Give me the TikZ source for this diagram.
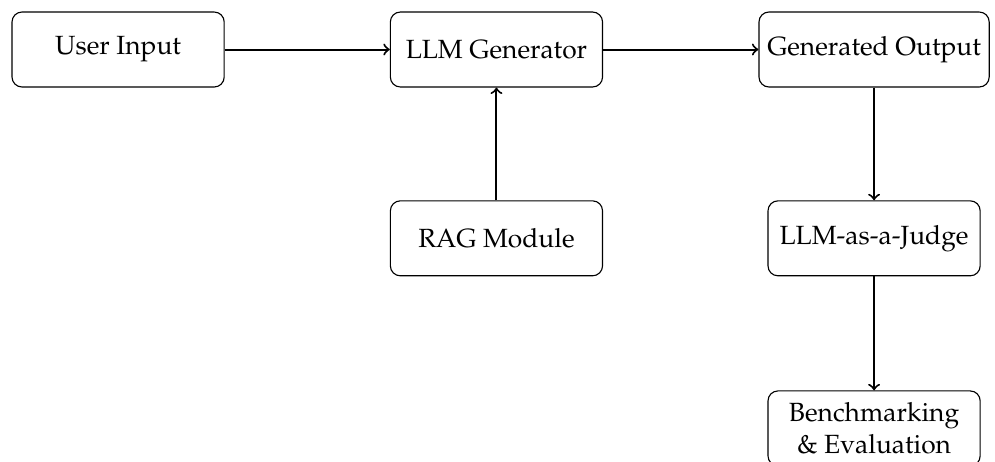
\documentclass[tikz,border=0pt]{standalone}
\usepackage[T1]{fontenc}
\usepackage{mathpazo}
\usetikzlibrary{positioning}
\begin{document}
\begin{tikzpicture}[
  x=1cm, y=-1cm,
  block/.style={draw, rounded corners=4pt, line width=0.45pt,
    font=\fontsize{10.6}{12.8}\selectfont,
    minimum width=3cm, minimum height=1.06cm, align=center},
  flow/.style={->, line width=0.8pt}
]
\useasboundingbox (0,0) rectangle (14.07,6.52);
\clip (0,0) rectangle (14.07,6.52);
% pipeline boxes
\node[block] (user) at (1.67,0.70) {User Input};
\node[block] (gen) at (7.02,0.70) {LLM Generator};
\node[block] (out) at (12.36,0.70) {Generated Output};
\node[block] (rag) at (7.02,3.37) {RAG Module};
\node[block] (judge) at (12.36,3.37) {LLM-as-a-Judge};
\node[block, anchor=north] (bench) at (12.36,5.52) {Benchmarking\\\& Evaluation};
% connectors
\draw[flow] (user) -- (gen);
\draw[flow] (gen) -- (out);
\draw[flow] (rag) -- (gen);
\draw[flow] (out) -- (judge);
\draw[flow] (judge) -- (bench);
\end{tikzpicture}
\end{document}
